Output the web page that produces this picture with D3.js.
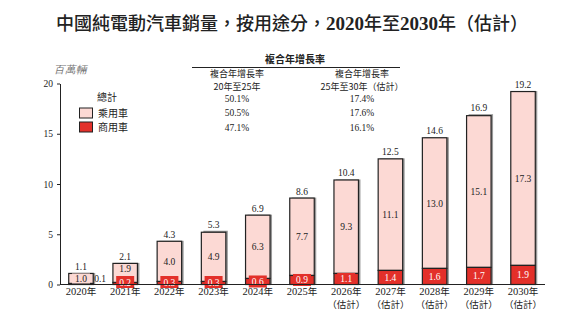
<!DOCTYPE html>
<html>
<head>
<meta charset="utf-8">
<script src="https://cdn.jsdelivr.net/npm/d3@7"></script>
<style>
  body { margin: 0; background: #fff; }
  svg { display: block; }
  .cjk { font-family: "Noto Sans CJK TC", "Noto Sans CJK SC", sans-serif; }
  .num { font-family: "Liberation Serif", "DejaVu Serif", serif; }
</style>
</head>
<body>
<svg id="chart" width="585" height="320"></svg>
<script>
// dados do gráfico
const years = ["2020", "2021", "2022", "2023", "2024", "2025", "2026", "2027", "2028", "2029", "2030"];
const estimated = [false, false, false, false, false, false, true, true, true, true, true];
const passenger = [1.0, 1.9, 4.0, 4.9, 6.3, 7.7, 9.3, 11.1, 13.0, 15.1, 17.3];
const commercial = [0.1, 0.2, 0.3, 0.3, 0.6, 0.9, 1.1, 1.4, 1.6, 1.7, 1.9];
const totals = [1.1, 2.1, 4.3, 5.3, 6.9, 8.6, 10.4, 12.5, 14.6, 16.9, 19.2];
const yTicks = [0, 5, 10, 15, 20];
const cagrHead = ["複合年增長率", "複合年增長率"];
const cagrPeriod = ["20年至25年", "25年至30年（估計）"];
const cagrTotal = ["50.1%", "17.4%"];
const cagrPassenger = ["50.5%", "17.6%"];
const cagrCommercial = ["47.1%", "16.1%"];

const pink = "#fcd9d4", red = "#e3302a", ink = "#222";

const svg = d3.select("#chart");

const x = d3.scaleBand().domain(years).range([59, 545]).paddingInner(0.446).paddingOuter(0.22);
const y = d3.scaleLinear().domain([0, 20]).range([284.5, 83.5]);

// título
const title = svg.append("text").attr("x", 292).attr("y", 30).attr("text-anchor", "middle")
    .attr("font-size", 18).attr("fill", ink);
[["中國純電動汽車銷量，按用途分，", "cjk"], ["2020", "num"], ["年至", "cjk"], ["2030", "num"], ["年（估計）", "cjk"]]
    .forEach(p => {
        title.append("tspan").attr("class", p[1])
            .attr("font-weight", p[1] === "num" ? "bold" : "500")
            .attr("font-size", p[1] === "num" ? 19 : 18)
            .text(p[0]);
    });

// unidade
svg.append("text").attr("class", "num").attr("x", 54).attr("y", 73)
    .attr("font-size", 10.5).attr("font-style", "italic").attr("fill", "#777").text("百萬輛");

// eixo y
const yAxis = svg.append("g").attr("transform", "translate(60,0)")
    .call(d3.axisLeft(y).tickValues(yTicks).tickSize(3).tickSizeOuter(0));
yAxis.select(".domain").attr("stroke", ink);
yAxis.selectAll(".tick line").attr("stroke", ink);
yAxis.selectAll(".tick text").attr("class", "num").attr("font-size", 9.5).attr("fill", ink).attr("x", -7);

// barras
const bars = svg.append("g").selectAll("g").data(years).join("g");
const bw = x.bandwidth();

// sombra cinza
bars.append("rect")
    .attr("x", (d, i) => x(d) + 2).attr("y", (d, i) => y(totals[i]) - 0.5)
    .attr("width", bw).attr("height", (d, i) => y(0) - y(totals[i]) + 0.5)
    .attr("fill", "#999");

bars.append("rect")
    .attr("x", d => x(d)).attr("y", (d, i) => y(commercial[i] + passenger[i]))
    .attr("width", bw).attr("height", (d, i) => y(commercial[i]) - y(commercial[i] + passenger[i]))
    .attr("fill", pink).attr("stroke", ink).attr("stroke-width", 1.2);

bars.append("rect")
    .attr("x", d => x(d)).attr("y", (d, i) => y(commercial[i]))
    .attr("width", bw).attr("height", (d, i) => y(0) - y(commercial[i]))
    .attr("fill", red).attr("stroke", ink).attr("stroke-width", 1.2);

// eixo x
svg.append("line").attr("x1", 60).attr("x2", 545).attr("y1", y(0)).attr("y2", y(0))
    .attr("stroke", ink).attr("stroke-width", 1.2);

// rótulos dos totais
bars.append("text").attr("class", "num")
    .attr("x", d => x(d) + bw / 2).attr("y", (d, i) => y(totals[i]) - 3.5)
    .attr("text-anchor", "middle").attr("font-size", 9.5).attr("fill", ink)
    .text((d, i) => totals[i].toFixed(1));

// rótulos dos veículos de passageiros
bars.each(function (d, i) {
    const g = d3.select(this);
    const cx = x(d) + bw / 2;
    let cy = (y(commercial[i]) + y(commercial[i] + passenger[i])) / 2;
    if (i === 1) cy -= 4;
    if (i === 0) {
        g.append("rect").attr("x", cx - 9).attr("y", cy - 5).attr("width", 18).attr("height", 10).attr("fill", pink);
    }
    g.append("text").attr("class", "num").attr("x", cx).attr("y", cy + 3.5)
        .attr("text-anchor", "middle").attr("font-size", 9.5).attr("fill", ink)
        .text(passenger[i].toFixed(1));

    // rótulos dos veículos comerciais
    if (i === 0) {
        g.append("text").attr("class", "num").attr("x", x(d) + bw + 1).attr("y", y(0) - 3)
            .attr("font-size", 9.5).attr("fill", ink).text(commercial[i].toFixed(1));
    } else {
        const ry = Math.min((y(0) + y(commercial[i])) / 2, y(0) - 2.5);
        g.append("rect").attr("x", cx - 9).attr("y", ry - 6).attr("width", 18).attr("height", 12).attr("fill", red);
        g.append("text").attr("class", "num").attr("x", cx).attr("y", ry + 3.5)
            .attr("text-anchor", "middle").attr("font-size", 9.5).attr("fill", "#fff")
            .text(commercial[i].toFixed(1));
    }
});

// rótulos do eixo x
const xl = svg.append("g").selectAll("text").data(years).join("text")
    .attr("x", d => x(d) + bw / 2).attr("y", 295)
    .attr("text-anchor", "middle").attr("font-size", 10.5).attr("fill", ink);
xl.append("tspan").attr("class", "num").text(d => d);
xl.append("tspan").attr("class", "cjk").attr("font-size", 9.5).text("年");
svg.append("g").selectAll("text").data(years.filter((d, i) => estimated[i])).join("text")
    .attr("class", "cjk").attr("x", d => x(d) + bw / 2).attr("y", 308)
    .attr("text-anchor", "middle").attr("font-size", 9.5).attr("fill", ink).text("（估計）");

// legenda
svg.append("text").attr("class", "cjk").attr("x", 97).attr("y", 101).attr("font-size", 10).attr("fill", ink).text("總計");
[[pink, "乘用車"], [red, "商用車"]].forEach((l, i) => {
    svg.append("rect").attr("x", 79.5).attr("y", 108 + i * 14).attr("width", 13).attr("height", 10)
        .attr("fill", l[0]).attr("stroke", ink).attr("stroke-width", 1);
    svg.append("text").attr("class", "cjk").attr("x", 98).attr("y", 117 + i * 14)
        .attr("font-size", 10).attr("fill", ink).text(l[1]);
});

// tabela de CAGR
svg.append("text").attr("class", "cjk").attr("x", 295).attr("y", 63).attr("text-anchor", "middle")
    .attr("font-size", 10).attr("font-weight", "bold").attr("fill", ink).text("複合年增長率");
svg.append("line").attr("x1", 192).attr("x2", 400).attr("y1", 67.5).attr("y2", 67.5).attr("stroke", ink).attr("stroke-width", 1);
const colX = [237, 362];
colX.forEach((cx, c) => {
    const rows = [[cagrHead[c], 76.5, "cjk"], [cagrPeriod[c], 89.7, "cjk"], [cagrTotal[c], 102, "num"],
                  [cagrPassenger[c], 116, "num"], [cagrCommercial[c], 131, "num"]];
    rows.forEach(r => {
        svg.append("text").attr("class", r[2]).attr("x", cx).attr("y", r[1]).attr("text-anchor", "middle")
            .attr("font-size", r[2] === "num" ? 9.5 : 9).attr("fill", ink).text(r[0]);
    });
});
</script>
</body>
</html>
